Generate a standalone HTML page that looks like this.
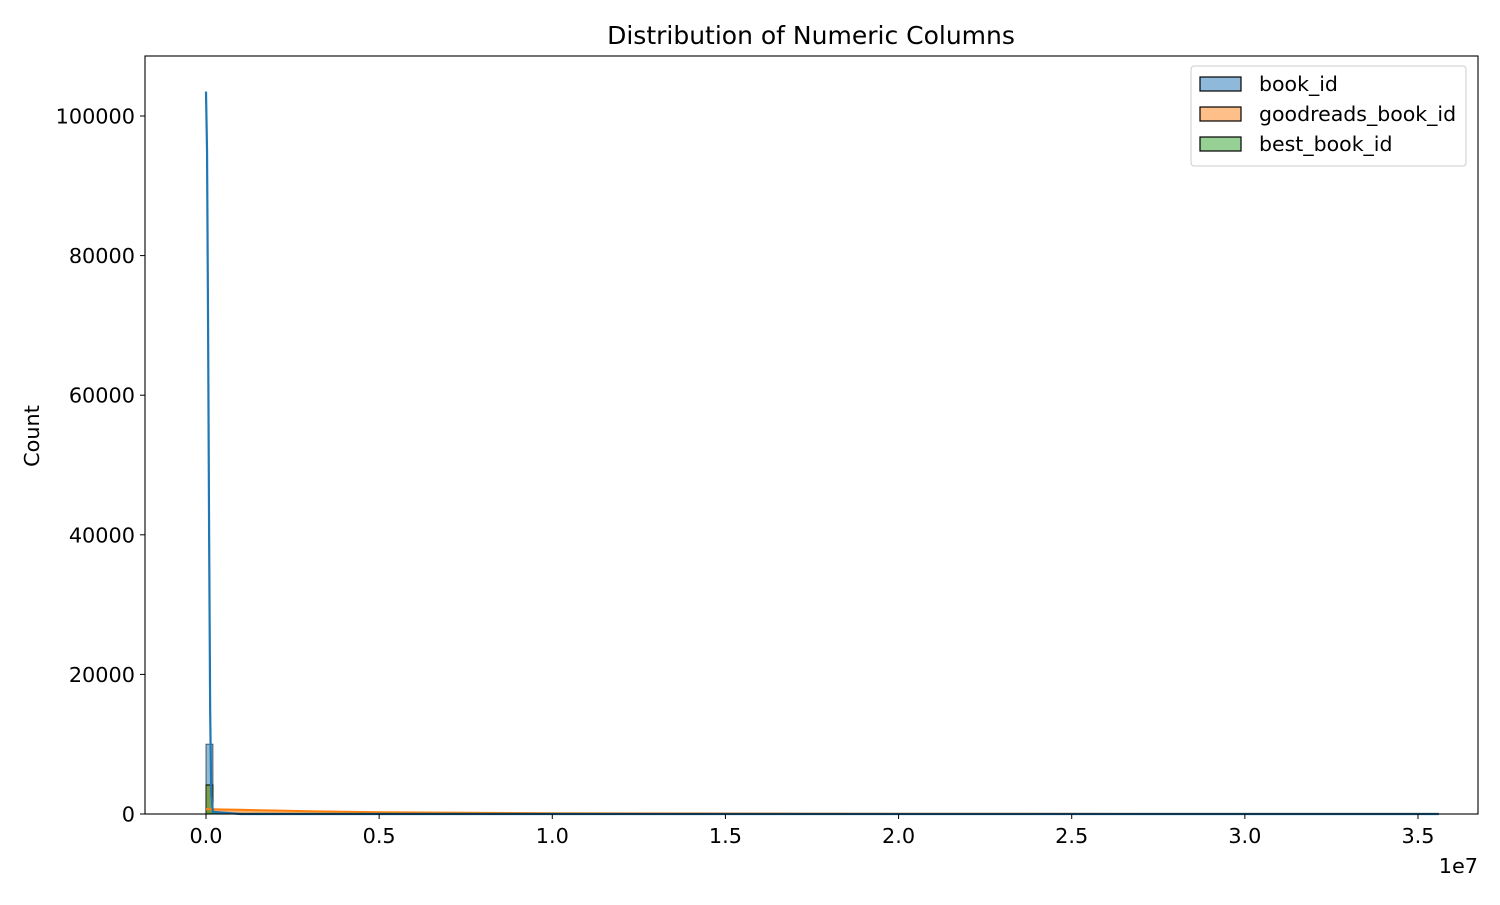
<!DOCTYPE html>
<html><head><meta charset="utf-8"><style>
body{margin:0;background:#fff}
svg text{font-family:"DejaVu Sans","Liberation Sans",sans-serif;fill:#000}
</style></head><body>
<svg id="chart" width="1500" height="900" viewBox="0 0 1500 900" xmlns="http://www.w3.org/2000/svg">
<rect width="1500" height="900" fill="#fff"/>
<text x="811" y="44" font-size="25" text-anchor="middle">Distribution of Numeric Columns</text>
<text transform="translate(39,436) rotate(-90)" font-size="20.8" text-anchor="middle">Count</text>
<text x="1478" y="873" font-size="20.8" text-anchor="end">1e7</text>
<g id="marks"></g>
<g id="axes"></g>
<rect x="145" y="56" width="1333" height="758" fill="none" stroke="#000" stroke-width="1.1"/>
<g>
<rect x="1191" y="66" width="275" height="100" rx="3" fill="#fff" fill-opacity="0.8" stroke="#ccc"/>
<rect x="1200" y="77" width="41" height="14" fill="#8fb9db" stroke="#000" stroke-width="1.2"/>
<text x="1259" y="91" font-size="20.5">book_id</text>
<rect x="1200" y="107" width="41" height="14" fill="#ffbf88" stroke="#000" stroke-width="1.2"/>
<text x="1259" y="121" font-size="20.5">goodreads_book_id</text>
<rect x="1200" y="137" width="41" height="14" fill="#97d095" stroke="#000" stroke-width="1.2"/>
<text x="1259" y="151" font-size="20.5">best_book_id</text>
</g>
</svg>
<script>
const xTicks=[0,0.5,1.0,1.5,2.0,2.5,3.0,3.5];
const yTicks=[0,20000,40000,60000,80000,100000];
const binEdges=[0,0.02];
const bookIdCounts=[10000];
const goodreadsCounts=[4200];
const bestCounts=[4100];
const kdeX=[0,0.003,0.006,0.009,0.012,0.015,0.02,0.1,1,3.56];
const bookKde=[103500,95000,70000,40000,15000,3000,300,0,0,0];
const orangeKdeX=[0,0.05,0.1,0.2,0.3,0.5,1,2,3.56];
const goodreadsKde=[700,650,600,500,400,250,100,40,10];
const X=v=>206+v*(1418-206)/3.5;
const Y=v=>814-v*(814-116)/100000;
const NS="http://www.w3.org/2000/svg";
const marks=document.getElementById('marks'),axes=document.getElementById('axes');
function mk(t,a,p){const e=document.createElementNS(NS,t);for(const k in a)e.setAttribute(k,a[k]);p.appendChild(e);return e;}
let d='M'+X(orangeKdeX[0])+','+Y(0);
orangeKdeX.forEach((x,i)=>d+=' L'+X(x)+','+Y(goodreadsKde[i]));
d+=' L'+X(orangeKdeX[orangeKdeX.length-1])+','+Y(0)+'Z';
const of=mk('path',{d:d,fill:'#ff7f0e','fill-opacity':0.6},marks);


const bars=[[bookIdCounts,'#1f77b4','book-id'],[goodreadsCounts,'#ff7f0e','goodreads'],[bestCounts,'#2ca02c','best']];
bars.forEach(([c,col,n])=>c.forEach((v,i)=>{
const r=mk('rect',{x:X(binEdges[i]),y:Y(v),width:X(binEdges[i+1])-X(binEdges[i]),height:Y(0)-Y(v),fill:col,'fill-opacity':0.5,stroke:'#000','stroke-opacity':0.6,'stroke-width':1},marks);


}));
const og=mk('path',{d:'M'+orangeKdeX.map((x,i)=>X(x)+','+Y(goodreadsKde[i])).join(' L'),fill:'none',stroke:'#ff7f0e','stroke-width':2},marks);


const gl=mk('path',{d:'M'+X(0)+','+Y(60)+' L'+X(3.56)+','+Y(0),fill:'none',stroke:'#2ca02c','stroke-width':1.5},marks);


const bl=mk('path',{d:'M'+kdeX.map((x,i)=>X(x)+','+Y(bookKde[i])).join(' L')+' L'+X(3.56)+','+Y(0),fill:'none',stroke:'#1f77b4','stroke-width':2.2},marks);


xTicks.forEach(t=>{
const l=mk('line',{x1:X(t),x2:X(t),y1:814,y2:819,stroke:'#000'},axes);


const tx=mk('text',{x:X(t),y:843,'font-size':20.8,'text-anchor':'middle'},axes);tx.textContent=t.toFixed(1);


});
yTicks.forEach(t=>{
const l=mk('line',{x1:140,x2:145,y1:Y(t),y2:Y(t),stroke:'#000'},axes);


const tx=mk('text',{x:135,y:Y(t)+7.5,'font-size':20.8,'text-anchor':'end'},axes);tx.textContent=t;


});
</script>
</body></html>
